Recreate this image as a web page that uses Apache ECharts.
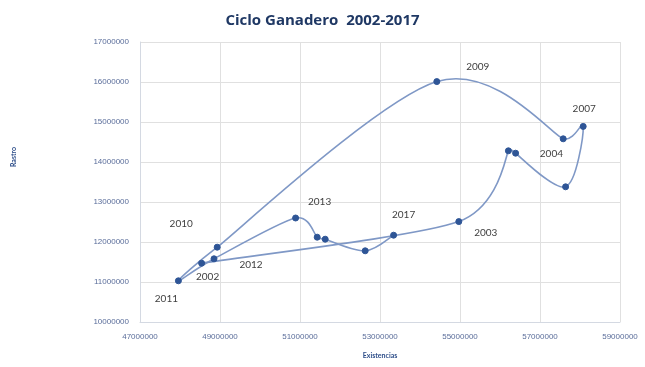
<!DOCTYPE html>
<html>
<head>
<meta charset="utf-8">
<script src="https://cdn.jsdelivr.net/npm/echarts@6/dist/echarts.min.js"></script>
<style>
  html, body { margin: 0; padding: 0; background: #ffffff; }
  #chart { width: 645px; height: 367px; }
</style>
</head>
<body>
<div id="chart"></div>
<script>
// Ciclo ganadero: existencias (inventario) contra rastro, 2002-2017
const years = ['2002','2003','2004','2005','2006','2007','2008','2009',
               '2010','2011','2012','2013','2014','2015','2016','2017'];
const existencias = [48540000, 54970000, 56210000, 56390000, 57640000, 58080000, 57580000, 54420000,
                     48930000, 47960000, 48850000, 50890000, 51430000, 51630000, 52630000, 53340000];
const rastro = [11470000, 12510000, 14280000, 14220000, 13380000, 14890000, 14580000, 16010000,
                11870000, 11030000, 11580000, 12600000, 12120000, 12070000, 11780000, 12170000];
const labeledYears = ['2002','2003','2004','2007','2009','2010','2011','2012','2013','2017'];
const xTicks = { min: 47000000, max: 59000000, step: 2000000 };
const yTicks = { min: 10000000, max: 17000000, step: 1000000 };

// where each year label sits relative to its marker
const labelOffsets = {
  '2002': [6, 14], '2003': [27, 11], '2004': [43, 3], '2007': [1, -18],
  '2009': [41, -15], '2010': [-36, -23], '2011': [-12, 18], '2012': [37, 6],
  '2013': [24, -16], '2017': [10, -20]
};

const LINE_COLOR = '#7f98c6';
const MARK_COLOR = '#2e5596';

const points = years.map((y, i) => ({
  value: [existencias[i], rastro[i]],
  name: y,
  label: {
    show: labeledYears.includes(y),
    position: 'inside',
    offset: labelOffsets[y] || [0, 0],
    formatter: y,
    color: '#404040',
    fontSize: 10,
    fontFamily: 'Lato, "Open Sans", sans-serif'
  }
}));

// Smoothed connecting line: one cubic Bezier per segment. Tangents follow
// the neighbouring points (factor 1/6), shortened next to very short
// segments so the curve never loops back on itself.
function renderSegment(params, api) {
  const i = params.dataIndex;
  const n = years.length;
  if (i >= n - 1) return null;
  const pt = k => {
    const c = Math.max(0, Math.min(n - 1, k));
    return api.coord([existencias[c], rastro[c]]);
  };
  const dist = (a, b) => Math.hypot(a[0] - b[0], a[1] - b[1]);
  // tangent vector (already scaled) at point k
  const tangent = k => {
    const a = pt(k - 1), b = pt(k), c = pt(k + 1);
    const vx = c[0] - a[0], vy = c[1] - a[1];
    const len = Math.hypot(vx, vy);
    if (len === 0) return [0, 0];
    const shortSide = Math.min(
      k > 0 ? dist(a, b) : Infinity,
      k < n - 1 ? dist(b, c) : Infinity
    );
    const f = Math.min(1 / 6, shortSide / (2 * len));
    return [vx * f, vy * f];
  };
  const p1 = pt(i), p2 = pt(i + 1);
  const t1 = tangent(i), t2 = tangent(i + 1);
  return {
    type: 'bezierCurve',
    shape: {
      x1: p1[0], y1: p1[1],
      x2: p2[0], y2: p2[1],
      cpx1: p1[0] + t1[0], cpy1: p1[1] + t1[1],
      cpx2: p2[0] - t2[0], cpy2: p2[1] - t2[1]
    },
    style: { stroke: LINE_COLOR, lineWidth: 1.6, fill: null }
  };
}

const chart = echarts.init(document.getElementById('chart'), null, { renderer: 'canvas' });
const axisLabelStyle = {
  color: '#5a6d9a',
  fontSize: 8,
  fontFamily: '"Liberation Sans", Arial, sans-serif',
  formatter: v => String(v)
};
chart.setOption({
  animation: false,
  backgroundColor: '#ffffff',
  title: {
    text: 'Ciclo Ganadero  2002-2017',
    left: 'center',
    top: 8,
    textStyle: {
      color: '#1f3864',
      fontSize: 15,
      fontWeight: 'bold',
      fontFamily: '"Open Sans", Lato, sans-serif'
    }
  },
  graphic: [{
    type: 'text',
    x: 14,
    y: 157,
    rotation: Math.PI / 2,
    style: {
      text: 'Rastro',
      fill: '#2f4f8a',
      font: 'bold 7px Lato, sans-serif',
      textAlign: 'center',
      textVerticalAlign: 'middle'
    }
  }],
  grid: { left: 140, right: 25, top: 42, bottom: 45 },
  xAxis: {
    type: 'value',
    min: xTicks.min, max: xTicks.max, interval: xTicks.step,
    name: 'Existencias',
    nameLocation: 'middle',
    nameGap: 30,
    nameTextStyle: { color: '#2f4f8a', fontSize: 7, fontWeight: 'bold', fontFamily: 'Lato, sans-serif' },
    axisLine: { show: true, lineStyle: { color: '#d4d9e2', width: 1 } },
    axisTick: { show: false },
    splitLine: { show: true, lineStyle: { color: '#e0e0e0', width: 1 } },
    axisLabel: Object.assign({ margin: 11 }, axisLabelStyle)
  },
  yAxis: {
    type: 'value',
    min: yTicks.min, max: yTicks.max, interval: yTicks.step,
    axisLine: { show: true, lineStyle: { color: '#d4d9e2', width: 1 } },
    axisTick: { show: false },
    splitLine: { show: true, lineStyle: { color: '#e0e0e0', width: 1 } },
    axisLabel: Object.assign({ margin: 11 }, axisLabelStyle)
  },
  series: [{
    type: 'custom',
    renderItem: renderSegment,
    data: years.map((y, i) => [existencias[i], rastro[i]]),
    silent: true,
    z: 2
  }, {
    type: 'scatter',
    data: points,
    symbol: 'circle',
    symbolSize: 6,
    itemStyle: { color: MARK_COLOR, borderColor: MARK_COLOR, opacity: 1 },
    z: 3
  }]
});
</script>
</body>
</html>
